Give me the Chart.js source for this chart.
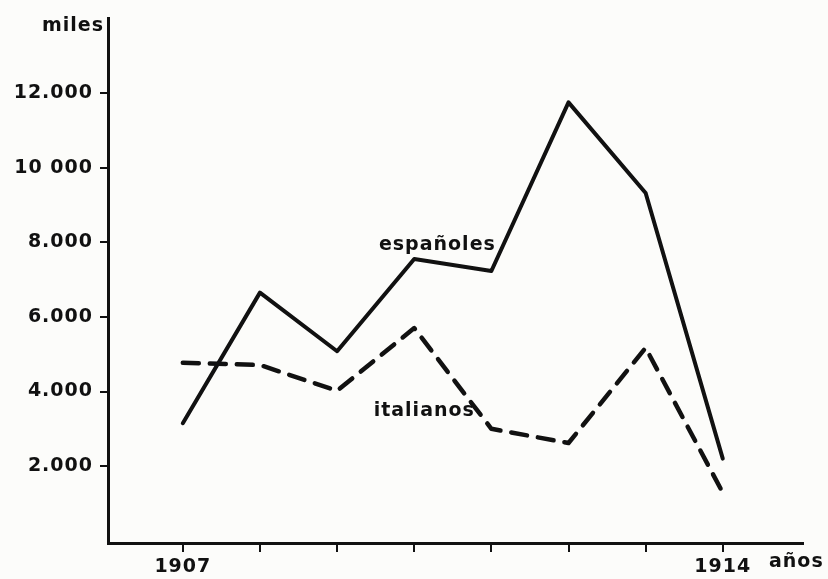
<!DOCTYPE html>
<html>
<head>
<meta charset="utf-8">
<script src="https://cdn.jsdelivr.net/npm/chart.js@4/dist/chart.umd.min.js"></script>
<style>
  html, body { margin: 0; padding: 0; background: #fcfcfa; }
  #wrap { width: 828px; height: 579px; position: relative; }
</style>
</head>
<body>
<div id="wrap"><canvas id="c" width="828" height="579"></canvas></div>
<script>
// ---- data ----
const years = [1907, 1908, 1909, 1910, 1911, 1912, 1913, 1914];
const espanoles = [3150, 6650, 5080, 7550, 7230, 11750, 9320, 2200];
const italianos = [4770, 4710, 4020, 5700, 3000, 2620, 5170, 1290];
const yTickValues = [2000, 4000, 6000, 8000, 10000, 12000];
const yTickLabels = ['2.000', '4.000', '6.000', '8.000', '10 000', '12.000'];
const xLabelYears = [1907, 1914];
const seriesNames = ['españoles', 'italianos'];
const yAxisTitle = 'miles';
const xAxisTitle = 'años';

const INK = '#111111';
const FONT = '"DejaVu Sans", sans-serif';

const textPlugin = {
  id: 'texts',
  beforeDraw(chart) {
    chart.ctx.letterSpacing = '1px';
  },
  afterDraw(chart) {
    const ctx = chart.ctx;
    const xs = chart.scales.x, ys = chart.scales.y;
    ctx.save();
    ctx.letterSpacing = '1px';
    ctx.fillStyle = INK;
    ctx.font = 'bold 19px ' + FONT;
    ctx.textBaseline = 'middle';
    ctx.textAlign = 'right';
    ctx.fillText(yAxisTitle, xs.left - 4, ys.top + 8);
    ctx.textAlign = 'left';
    ctx.fillText(xAxisTitle, xs.right - 34, xs.top + 19);
    ctx.textAlign = 'center';
    ctx.fillText(seriesNames[0], xs.getPixelForValue(1910.3), ys.getPixelForValue(7930));
    ctx.fillText(seriesNames[1], xs.getPixelForValue(1910.13), ys.getPixelForValue(3470));
    ctx.restore();
  }
};

new Chart(document.getElementById('c'), {
  type: 'line',
  data: {
    datasets: [
      {
        label: seriesNames[0],
        data: years.map((y, i) => ({ x: y, y: espanoles[i] })),
        borderColor: INK,
        borderWidth: 4,
        pointRadius: 0,
        tension: 0,
        borderCapStyle: 'round',
        borderJoinStyle: 'round'
      },
      {
        label: seriesNames[1],
        data: years.map((y, i) => ({ x: y, y: italianos[i] })),
        borderColor: INK,
        borderWidth: 4.5,
        borderDash: [16, 11],
        pointRadius: 0,
        tension: 0,
        borderCapStyle: 'round',
        borderJoinStyle: 'round'
      }
    ]
  },
  options: {
    responsive: false,
    animation: false,
    layout: { padding: { top: 18, right: 25, left: 0, bottom: 0 } },
    plugins: { legend: { display: false }, tooltip: { enabled: false } },
    scales: {
      x: {
        type: 'linear',
        min: 1906.03,
        max: 1915.04,
        afterFit(scale) { scale.height = 36; },
        afterBuildTicks(scale) { scale.ticks = years.map(v => ({ value: v })); },
        border: { display: true, color: INK, width: 3 },
        grid: { display: true, drawOnChartArea: false, drawTicks: true, tickLength: 9, color: INK, lineWidth: 2 },
        ticks: {
          autoSkip: false, maxRotation: 0, padding: 4,
          color: INK, font: { family: FONT, size: 19, weight: 'bold' },
          callback: (v) => xLabelYears.includes(v) ? String(v) : ''
        }
      },
      y: {
        min: -60,
        max: 14000,
        afterFit(scale) { scale.width = 108; },
        afterBuildTicks(scale) { scale.ticks = yTickValues.map(v => ({ value: v })); },
        border: { display: true, color: INK, width: 3 },
        grid: { display: true, drawOnChartArea: false, drawTicks: true, tickLength: 8, color: INK, lineWidth: 2 },
        ticks: {
          padding: 7,
          color: INK, font: { family: FONT, size: 19, weight: 'bold' },
          callback: (v) => { const i = yTickValues.indexOf(v); return i >= 0 ? yTickLabels[i] : ''; }
        }
      }
    }
  },
  plugins: [textPlugin]
});
</script>
</body>
</html>
